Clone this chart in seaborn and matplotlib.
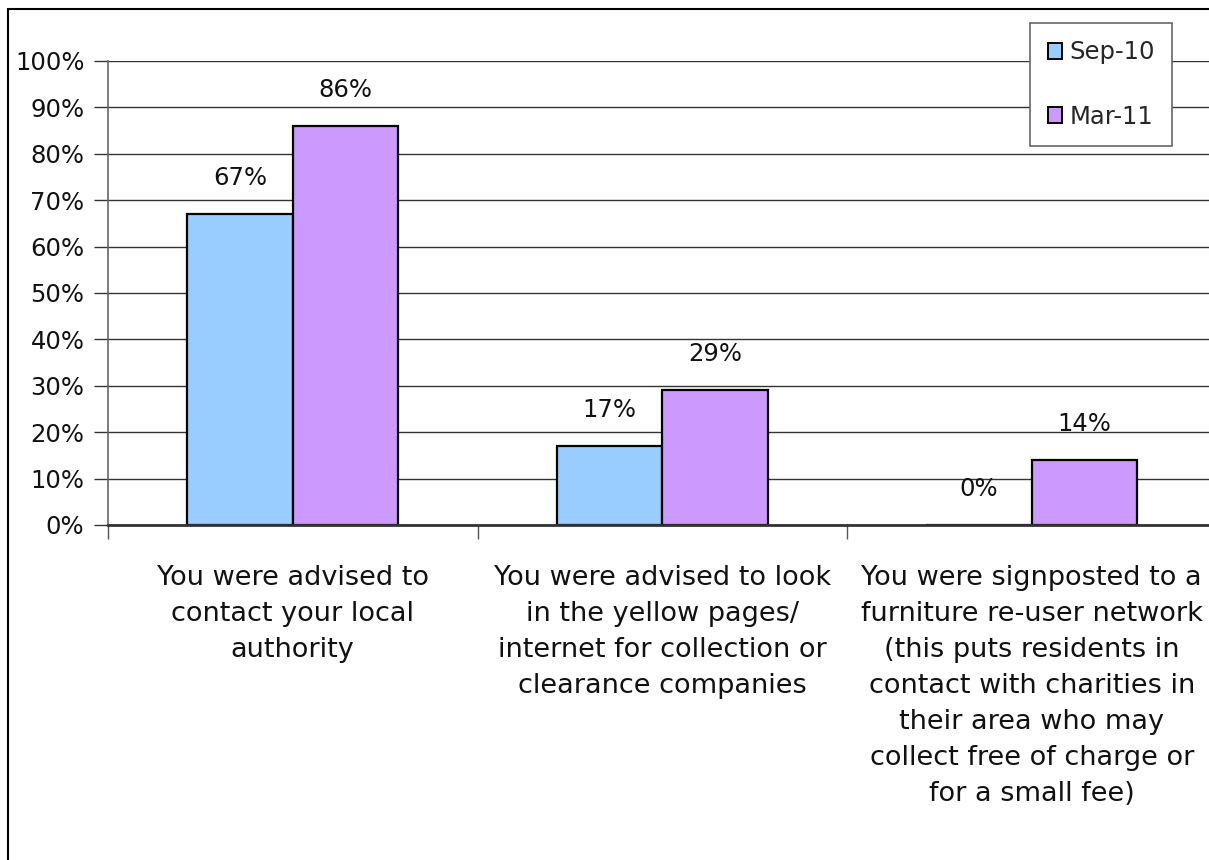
import matplotlib
matplotlib.use("Agg")
import matplotlib.pyplot as plt
import seaborn as sns
import pandas as pd
from matplotlib.patches import Rectangle

categories = [
    "You were advised to\ncontact your local\nauthority",
    "You were advised to look\nin the yellow pages/\ninternet for collection or\nclearance companies",
    "You were signposted to a\nfurniture re-user network\n(this puts residents in\ncontact with charities in\ntheir area who may\ncollect free of charge or\nfor a small fee)",
]
series = ["Sep-10", "Mar-11"]
sep10 = [0.67, 0.17, 0.00]
mar11 = [0.86, 0.29, 0.14]
yticks = [0, 0.1, 0.2, 0.3, 0.4, 0.5, 0.6, 0.7, 0.8, 0.9, 1.0]
colors = ["#99CCFF", "#CC99FF"]

df = pd.DataFrame({
    "cat": categories * 2,
    "series": [series[0]] * 3 + [series[1]] * 3,
    "value": sep10 + mar11,
})

sns.set_theme(style="white")
plt.rcParams["font.family"] = ["DejaVu Sans"]

fig = plt.figure(figsize=(12.09, 8.6), dpi=100)
W, H = 1209, 860
ax = fig.add_axes([108 / W, 1 - 525 / H, (1216.5 - 108) / W, (525 - 61) / H])

sns.barplot(data=df, x="cat", y="value", hue="series", palette=colors,
            width=0.571, edgecolor="black", linewidth=1.6, ax=ax,
            saturation=1, legend=True)

ax.set_xlim(-0.5, 2.5)
ax.set_ylim(0, 1.0)
ax.set_yticks(yticks)
ax.set_yticklabels([f"{int(round(v*100))}%" for v in yticks], fontsize=17.5, color="#111111")
ax.yaxis.grid(True, color="#333333", linewidth=1.0)
ax.set_axisbelow(True)
ax.set_xlabel("")
ax.set_ylabel("")

ax.set_xticks([0, 1, 2])
ax.set_xticklabels(categories, fontsize=19.5, linespacing=1.5, color="#111111")
ax.set_xticks([-0.5, 0.5, 1.5, 2.5], minor=True)
ax.tick_params(axis="x", which="major", length=0, pad=29)
ax.tick_params(axis="x", which="minor", length=10, width=1, color="#555555", bottom=True)
ax.tick_params(axis="y", which="major", length=10, width=1, color="#333333", left=True, pad=7)

for s in ["top", "right"]:
    ax.spines[s].set_visible(False)
ax.spines["left"].set_color("#666666")
ax.spines["left"].set_linewidth(1.2)
ax.spines["bottom"].set_color("#333333")
ax.spines["bottom"].set_linewidth(2)

# data labels
for container in ax.containers:
    for bar in container:
        h = bar.get_height()
        xc = bar.get_x() + bar.get_width() / 2
        ax.annotate(f"{int(round(h*100))}%", (xc, h), xytext=(0, 36),
                    textcoords="offset pixels", ha="center", va="center",
                    fontsize=17.5, color="#111111")

leg = ax.get_legend()
handles, labels = ax.get_legend_handles_labels()
leg.remove()
lg = fig.legend(handles, labels, loc="upper left",
                bbox_to_anchor=(1030 / W, 1 - 23 / H), bbox_transform=fig.transFigure,
                fontsize=17.5, frameon=True, fancybox=False, framealpha=1,
                edgecolor="#666666", handlelength=0.6, handleheight=0.6,
                handletextpad=0.3, labelspacing=1.65, borderpad=0.72, borderaxespad=0)
lg.get_frame().set_linewidth(1.2)
for hnd in lg.legend_handles:
    hnd.set_edgecolor("black")
    hnd.set_linewidth(1.4)

# outer chart border
fig.patches.append(Rectangle((8 / W, -0.1), 1.2, 1 - 9 / H + 0.1, transform=fig.transFigure,
                             fill=False, edgecolor="black", linewidth=1.5))

fig.savefig("out.png", dpi=100)
